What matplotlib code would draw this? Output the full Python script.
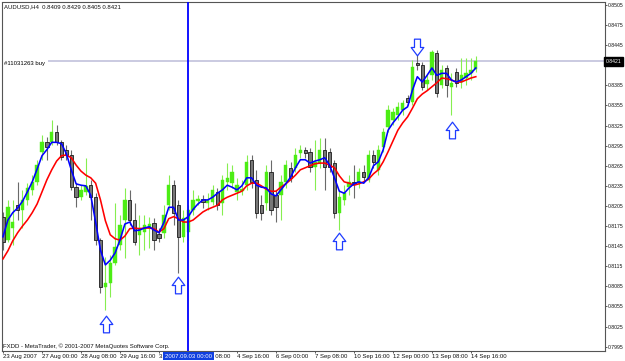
"""MetaTrader style AUDUSD H4 candlestick chart with two moving averages."""

import matplotlib

matplotlib.use("Agg")
import matplotlib.pyplot as plt
import matplotlib.transforms as mtransforms
import numpy as np
from matplotlib.path import Path

plt.rcParams["font.family"] = ["Liberation Sans", "DejaVu Sans"]
plt.rcParams["font.size"] = 4.3

SYMBOL_TITLE = "AUDUSD,H4  0.8409 0.8429 0.8405 0.8421"
COPYRIGHT = "FXDD - MetaTrader, \u00a9 2001-2007 MetaQuotes Software Corp."
ORDER_LABEL = "#11031263 buy"
ORDER_PRICE = 0.8421
CROSSHAIR_BAR = 38
CROSSHAIR_LABEL = "2007.09.03 00:00"

OPEN = [0.8189, 0.8154, 0.8172, 0.8206, 0.8199, 0.8214, 0.8229, 0.8241, 0.8286, 0.8300,
        0.8300, 0.8315, 0.8300, 0.8289, 0.8281, 0.8233, 0.8218, 0.8226, 0.8236, 0.8218,
        0.8154, 0.8084, 0.8090, 0.8120, 0.8147, 0.8184, 0.8214, 0.8184, 0.8162, 0.8166,
        0.8172, 0.8180, 0.8163, 0.8165, 0.8206, 0.8236, 0.8206, 0.8159, 0.8166, 0.8199,
        0.8212, 0.8215, 0.8209, 0.8211, 0.8226, 0.8209, 0.8241, 0.8239, 0.8226, 0.8227,
        0.8236, 0.8274, 0.8244, 0.8206, 0.8209, 0.8256, 0.8221, 0.8221, 0.8241, 0.8262,
        0.8262, 0.8284, 0.8289, 0.8286, 0.8263, 0.8269, 0.8289, 0.8286, 0.8269, 0.8195,
        0.8214, 0.8233, 0.8241, 0.8239, 0.8256, 0.8244, 0.8281, 0.8259, 0.8293, 0.8323,
        0.8333, 0.8341, 0.8348, 0.8366, 0.8360, 0.8418, 0.8415, 0.8387, 0.8400, 0.8433,
        0.8386, 0.8411, 0.8383, 0.8405, 0.8390, 0.8396, 0.8403, 0.8409]
HIGH = [0.8196, 0.8214, 0.8214, 0.8241, 0.8229, 0.8239, 0.8251, 0.8274, 0.8311, 0.8308,
        0.8333, 0.8326, 0.8303, 0.8296, 0.8289, 0.8239, 0.8236, 0.8277, 0.8244, 0.8224,
        0.8157, 0.8129, 0.8132, 0.8209, 0.8192, 0.8232, 0.8229, 0.8209, 0.8192, 0.8192,
        0.8189, 0.8187, 0.8172, 0.8206, 0.8251, 0.8244, 0.8214, 0.8199, 0.8206, 0.8229,
        0.8221, 0.8221, 0.8224, 0.8236, 0.8232, 0.8251, 0.8269, 0.8266, 0.8247, 0.8244,
        0.8281, 0.8281, 0.8259, 0.8221, 0.8266, 0.8274, 0.8229, 0.8251, 0.8274, 0.8271,
        0.8292, 0.8296, 0.8293, 0.8292, 0.8303, 0.8306, 0.8306, 0.8292, 0.8274, 0.8229,
        0.8236, 0.8251, 0.8266, 0.8262, 0.8266, 0.8289, 0.8289, 0.8296, 0.8321, 0.8356,
        0.8351, 0.8360, 0.8363, 0.8371, 0.8423, 0.8430, 0.8420, 0.8400, 0.8438, 0.8438,
        0.8415, 0.8415, 0.8403, 0.8411, 0.8426, 0.8426, 0.8426, 0.8429]
LOW = [0.8139, 0.8151, 0.8147, 0.8184, 0.8172, 0.8206, 0.8221, 0.8236, 0.8274, 0.8274,
       0.8296, 0.8296, 0.8274, 0.8274, 0.8229, 0.8203, 0.8214, 0.8221, 0.8184, 0.8147,
       0.8075, 0.8050, 0.8069, 0.8117, 0.8139, 0.8127, 0.8177, 0.8147, 0.8132, 0.8139,
       0.8142, 0.8139, 0.8151, 0.8157, 0.8199, 0.8177, 0.8105, 0.8151, 0.8154, 0.8192,
       0.8206, 0.8202, 0.8199, 0.8206, 0.8199, 0.8192, 0.8229, 0.8232, 0.8214, 0.8221,
       0.8229, 0.8232, 0.8187, 0.8184, 0.8199, 0.8192, 0.8181, 0.8184, 0.8232, 0.8241,
       0.8256, 0.8277, 0.8277, 0.8256, 0.8229, 0.8262, 0.8229, 0.8256, 0.8187, 0.8169,
       0.8206, 0.8221, 0.8217, 0.8232, 0.8241, 0.8241, 0.8262, 0.8251, 0.8286, 0.8315,
       0.8326, 0.8333, 0.8341, 0.8356, 0.8356, 0.8408, 0.8378, 0.8378, 0.8393, 0.8368,
       0.8381, 0.8368, 0.8341, 0.8383, 0.8381, 0.8386, 0.8393, 0.8405]
CLOSE = [0.8151, 0.8203, 0.8181, 0.8199, 0.8214, 0.8232, 0.8241, 0.8266, 0.8300, 0.8293,
         0.8315, 0.8300, 0.8278, 0.8281, 0.8233, 0.8218, 0.8229, 0.8235, 0.8218, 0.8154,
         0.8084, 0.8090, 0.8120, 0.8144, 0.8177, 0.8214, 0.8184, 0.8151, 0.8172, 0.8177,
         0.8178, 0.8154, 0.8157, 0.8192, 0.8236, 0.8195, 0.8159, 0.8187, 0.8199, 0.8214,
         0.8215, 0.8211, 0.8214, 0.8229, 0.8206, 0.8244, 0.8247, 0.8256, 0.8236, 0.8230,
         0.8271, 0.8241, 0.8195, 0.8195, 0.8256, 0.8199, 0.8203, 0.8241, 0.8266, 0.8247,
         0.8281, 0.8289, 0.8284, 0.8263, 0.8271, 0.8289, 0.8263, 0.8263, 0.8195, 0.8218,
         0.8224, 0.8241, 0.8239, 0.8256, 0.8248, 0.8281, 0.8271, 0.8289, 0.8315, 0.8348,
         0.8345, 0.8353, 0.8359, 0.8360, 0.8412, 0.8415, 0.8383, 0.8393, 0.8435, 0.8374,
         0.8408, 0.8386, 0.8389, 0.8389, 0.8400, 0.8403, 0.8408, 0.8421]

MA_FAST = [0.8159, 0.8184, 0.8195, 0.8202, 0.8212, 0.8226, 0.8241, 0.8260, 0.8280, 0.8289,
           0.8300, 0.8300, 0.8298, 0.8283, 0.8259, 0.8238, 0.8236, 0.8235, 0.8221, 0.8181,
           0.8139, 0.8117, 0.8124, 0.8135, 0.8154, 0.8178, 0.8181, 0.8168, 0.8169, 0.8172,
           0.8174, 0.8169, 0.8165, 0.8180, 0.8203, 0.8203, 0.8184, 0.8184, 0.8189, 0.8200,
           0.8208, 0.8214, 0.8214, 0.8218, 0.8224, 0.8229, 0.8236, 0.8233, 0.8229, 0.8235,
           0.8247, 0.8247, 0.8236, 0.8233, 0.8232, 0.8223, 0.8220, 0.8229, 0.8238, 0.8248,
           0.8262, 0.8274, 0.8274, 0.8269, 0.8272, 0.8274, 0.8277, 0.8266, 0.8247, 0.8227,
           0.8224, 0.8232, 0.8238, 0.8241, 0.8239, 0.8247, 0.8265, 0.8271, 0.8289, 0.8318,
           0.8329, 0.8338, 0.8348, 0.8353, 0.8378, 0.8398, 0.8390, 0.8400, 0.8411, 0.8400,
           0.8403, 0.8403, 0.8393, 0.8390, 0.8393, 0.8398, 0.8403, 0.8411]
MA_SLOW = [0.8126, 0.8138, 0.8153, 0.8165, 0.8175, 0.8184, 0.8195, 0.8208, 0.8226, 0.8244,
           0.8259, 0.8272, 0.8280, 0.8281, 0.8277, 0.8266, 0.8257, 0.8251, 0.8247, 0.8239,
           0.8214, 0.8183, 0.8162, 0.8156, 0.8154, 0.8160, 0.8171, 0.8172, 0.8171, 0.8172,
           0.8172, 0.8171, 0.8166, 0.8171, 0.8186, 0.8189, 0.8186, 0.8181, 0.8181, 0.8184,
           0.8190, 0.8196, 0.8200, 0.8203, 0.8206, 0.8214, 0.8218, 0.8221, 0.8224, 0.8227,
           0.8235, 0.8239, 0.8239, 0.8235, 0.8230, 0.8227, 0.8227, 0.8233, 0.8238, 0.8244,
           0.8251, 0.8259, 0.8262, 0.8265, 0.8268, 0.8269, 0.8269, 0.8266, 0.8262, 0.8250,
           0.8241, 0.8239, 0.8236, 0.8238, 0.8241, 0.8245, 0.8253, 0.8259, 0.8271, 0.8286,
           0.8302, 0.8318, 0.8329, 0.8338, 0.8351, 0.8365, 0.8372, 0.8377, 0.8383, 0.8389,
           0.8396, 0.8395, 0.8393, 0.8390, 0.8390, 0.8393, 0.8396, 0.8398]

UP_ARROW_BARS = [21.1, 36, 69, 92.1]
UP_ARROW_PRICES = [0.8029, 0.8087, 0.8153, 0.8318]
DOWN_ARROW_BARS = [85]
DOWN_ARROW_PRICES = [0.8442]

DATE_LABELS = ["23 Aug 2007", "27 Aug 00:00", "28 Aug 08:00", "29 Aug 16:00",
               "31 Aug 00:00", "3 Sep 08:00", "4 Sep 16:00", "6 Sep 00:00",
               "7 Sep 08:00", "10 Sep 16:00", "12 Sep 00:00", "13 Sep 08:00",
               "14 Sep 16:00"]
PRICE_TICKS = [0.8505, 0.8475, 0.8445, 0.8415, 0.8385, 0.8355, 0.8325, 0.8295, 0.8265,
               0.8235, 0.8205, 0.8175, 0.8145, 0.8115, 0.8085, 0.8055, 0.8025, 0.7995]

BULL_BODY = "#4ced14"
BULL_WICK = "#86ee50"
BEAR_BODY = "#777777"
BEAR_EDGE = "#1a1a1a"
ARROW_BLUE = "#1f3cff"


def arrow_marker(up: bool) -> Path:
    verts = [(0, 8.3), (6.3, 0), (3, 0), (3, -8.3), (-3, -8.3), (-3, 0), (-6.3, 0), (0, 8.3)]
    if not up:
        verts = [(x, -y) for x, y in verts]
    codes = [Path.MOVETO] + [Path.LINETO] * 6 + [Path.CLOSEPOLY]
    return Path(verts, codes)


def main() -> None:
    o, h, l, c = (np.asarray(a) for a in (OPEN, HIGH, LOW, CLOSE))
    x = np.arange(len(o))
    bull = c >= o

    fig = plt.figure(figsize=(6.25, 3.61), dpi=100)
    fig.patch.set_facecolor("white")
    ax = fig.add_axes([2 / 625, 10.5 / 361, 603 / 625, 348.5 / 361])
    ax.set_xlim(-0.205, 123.5)
    ax.set_ylim(0.79892, 0.85095)

    # order line with its label sitting on the left
    ax.axhline(ORDER_PRICE, color="#c6c6de", linewidth=1.3, zorder=0.5)
    trans = mtransforms.blended_transform_factory(ax.transAxes, ax.transData)
    ax.text(0.004, ORDER_PRICE, ORDER_LABEL, transform=trans, ha="left", va="top",
            bbox=dict(boxstyle="square,pad=0.35", fc="white", ec="none"), zorder=0.6)

    # candles
    ax.vlines(x[bull], l[bull], h[bull], color=BULL_WICK, linewidth=0.8, zorder=1)
    ax.vlines(x[~bull], l[~bull], h[~bull], color="#6a6a6a", linewidth=0.8, zorder=1)
    bottom = np.minimum(o, c)
    height = np.maximum(np.abs(c - o), 0.00008)
    ax.bar(x[bull], height[bull], bottom=bottom[bull], width=0.68,
           color=BULL_BODY, edgecolor=BULL_BODY, linewidth=0.3, zorder=2)
    ax.bar(x[~bull], height[~bull], bottom=bottom[~bull], width=0.68,
           color=BEAR_BODY, edgecolor=BEAR_EDGE, linewidth=0.6, zorder=2)

    # moving averages
    ax.plot(x, MA_SLOW, color="#ff0000", linewidth=1.15, zorder=3)
    ax.plot(x, MA_FAST, color="#0000ff", linewidth=1.15, zorder=3.1)

    # crosshair
    ax.axvline(CROSSHAIR_BAR, color="#0000ff", linewidth=1.3, zorder=3.2)
    ax.text(CROSSHAIR_BAR, -0.016, CROSSHAIR_LABEL, transform=ax.get_xaxis_transform(),
            ha="center", va="center", color="white", clip_on=False, zorder=5,
            bbox=dict(boxstyle="square,pad=0.3", fc="#1040e0", ec="none"))

    # signal arrows
    ax.plot(UP_ARROW_BARS, UP_ARROW_PRICES, linestyle="none", marker=arrow_marker(True),
            markersize=12, markerfacecolor="white", markeredgecolor=ARROW_BLUE,
            markeredgewidth=0.9, zorder=4)
    ax.plot(DOWN_ARROW_BARS, DOWN_ARROW_PRICES, linestyle="none", marker=arrow_marker(False),
            markersize=12, markerfacecolor="white", markeredgecolor=ARROW_BLUE,
            markeredgewidth=0.9, zorder=4)

    # axes, ticks
    ax.yaxis.tick_right()
    shown = [p for p in PRICE_TICKS if abs(p - ORDER_PRICE) > 0.0008]
    ax.set_yticks(shown)
    ax.set_yticklabels([f"{p:.4f}" for p in shown])
    ax.set_xticks(range(0, len(o), 8))
    ax.set_xticklabels(DATE_LABELS, ha="left")
    ax.tick_params(axis="both", length=1.6, width=0.6, color="#404040", pad=0.8,
                   labelsize=4.3, labelcolor="#111111")
    ax.tick_params(axis="y", labelsize=3.7, pad=0.6)
    for spine in ax.spines.values():
        spine.set_color("#555555")
        spine.set_linewidth(0.8)
        spine.set_linestyle((0, (1.5, 1)))

    # current price box on the scale
    ax.text(1.0015, ORDER_PRICE, f"{CLOSE[-1]:.4f}", transform=trans, ha="left", va="center",
            color="white", fontsize=3.7, clip_on=False, zorder=5,
            bbox=dict(boxstyle="square,pad=0.35", fc="black", ec="black"))

    fig.text(4 / 625, 1 - 7 / 361, SYMBOL_TITLE, ha="left", va="center", color="#111111")
    fig.text(3 / 625, 1 - 346 / 361, COPYRIGHT, ha="left", va="center", color="#111111")

    fig.savefig("out.png", dpi=100, facecolor="white")
    plt.close(fig)


if __name__ == "__main__":
    main()
